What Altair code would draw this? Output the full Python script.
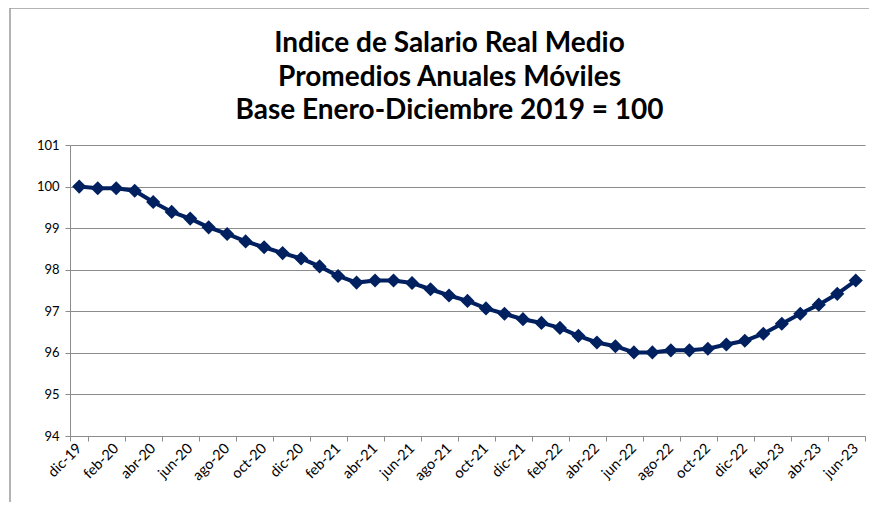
import altair as alt
import pandas as pd

months = [
    "dic-19",
    "ene-20", "feb-20", "mar-20", "abr-20", "may-20", "jun-20",
    "jul-20", "ago-20", "sep-20", "oct-20", "nov-20", "dic-20",
    "ene-21", "feb-21", "mar-21", "abr-21", "may-21", "jun-21",
    "jul-21", "ago-21", "sep-21", "oct-21", "nov-21", "dic-21",
    "ene-22", "feb-22", "mar-22", "abr-22", "may-22", "jun-22",
    "jul-22", "ago-22", "sep-22", "oct-22", "nov-22", "dic-22",
    "ene-23", "feb-23", "mar-23", "abr-23", "may-23", "jun-23",
]
values = [
    100.00,
    99.96, 99.96, 99.90, 99.63, 99.39, 99.23,
    99.02, 98.86, 98.68, 98.54, 98.40, 98.27,
    98.08, 97.85, 97.69, 97.74, 97.74, 97.68,
    97.53, 97.38, 97.25, 97.07, 96.94, 96.81,
    96.72, 96.60, 96.41, 96.25, 96.16, 96.01,
    96.01, 96.06, 96.06, 96.10, 96.20, 96.29,
    96.46, 96.70, 96.94, 97.16, 97.42, 97.74,
]
tick_labels = months[::2]
y_ticks = [94, 95, 96, 97, 98, 99, 100, 101]
title_lines = [
    "Indice de Salario Real Medio",
    "Promedios Anuales Móviles",
    "Base Enero-Diciembre 2019 = 100",
]

df = pd.DataFrame({"mes": months, "indice": values})

W, H = 795, 291
NAVY = "#002060"
GRID = "#8c8c8c"
FONT = "Lato"

line = alt.Chart(df).mark_line(
    color=NAVY,
    strokeWidth=4,
    point=alt.OverlayMarkDef(shape="diamond", size=200, filled=True, color=NAVY, opacity=1),
).encode(
    x=alt.X(
        "mes:N",
        sort=months,
        scale=alt.Scale(type="band", paddingInner=0, paddingOuter=0),
        axis=alt.Axis(
            values=tick_labels,
            title=None,
            tickBand="extent",
            labelAngle=-45,
            labelAlign="right",
            labelBaseline="middle",
            labelPadding=5,
            labelFontSize=14.5,
            labelFont=FONT,
            labelColor="#000000",
            domainColor=GRID,
            tickColor=GRID,
            tickSize=5,
            grid=False,
        ),
    ),
    y=alt.Y(
        "indice:Q",
        scale=alt.Scale(domain=[94, 101], nice=False, zero=False),
        axis=alt.Axis(
            values=y_ticks,
            title=None,
            format="d",
            labelFontSize=13,
            labelFont=FONT,
            labelColor="#000000",
            labelPadding=6,
            domainColor=GRID,
            tickColor=GRID,
            tickSize=5,
            grid=True,
            gridColor=GRID,
            gridWidth=1,
        ),
    ),
)

frame = alt.Chart(pd.DataFrame({"k": [0]})).mark_rect(
    filled=False, stroke="#9a9a9a", strokeWidth=1.5
).encode(
    x=alt.value(-60), x2=alt.value(830), y=alt.value(-137), y2=alt.value(380)
)

chart = alt.layer(frame, line).properties(
    width=W,
    height=H,
    autosize=alt.AutoSizeParams(type="none"),
    padding={"left": 62, "top": 137, "right": 4, "bottom": 66},
    title=alt.TitleParams(
        title_lines,
        font=FONT,
        fontSize=28,
        fontWeight="bold",
        color="#000000",
        lineHeight=33.5,
        anchor="middle",
        frame="group",
        baseline="alphabetic",
        dx=-18,
        offset=-140,
    ),
).configure_view(stroke=None)

chart.save("out.html", embed_options={"renderer": "svg", "actions": False})
